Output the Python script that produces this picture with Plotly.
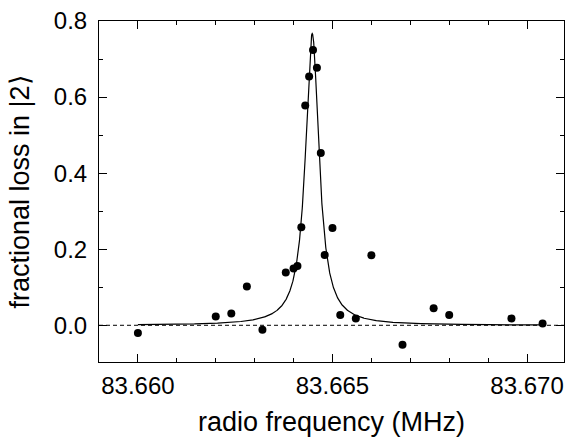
import numpy as np
import plotly.graph_objects as go

# measured points
freq_mhz = [83.6600, 83.6620, 83.6624, 83.6628, 83.6632, 83.6638, 83.6640, 83.6641,
            83.6642, 83.6643, 83.6644, 83.6645, 83.6646, 83.6647, 83.6648, 83.6650,
            83.6652, 83.6656, 83.6660, 83.6668, 83.6676, 83.6680, 83.6696, 83.6704]
loss = [-0.020, 0.023, 0.031, 0.102, -0.012, 0.139, 0.149, 0.156,
        0.258, 0.578, 0.654, 0.724, 0.677, 0.453, 0.185, 0.256,
        0.027, 0.018, 0.184, -0.051, 0.045, 0.027, 0.018, 0.005]

# lorentzian fit
fit_center = 83.66448
fit_hwhm = 0.00021
fit_amp = 0.767

x_tick_vals = [83.660, 83.665, 83.670]
x_tick_text = ["83.660", "83.665", "83.670"]
y_tick_vals = [0.0, 0.2, 0.4, 0.6, 0.8]
y_tick_text = ["0.0", "0.2", "0.4", "0.6", "0.8"]

xf = np.linspace(min(freq_mhz), max(freq_mhz), 3000)
yf = fit_amp / (1 + ((xf - fit_center) / fit_hwhm) ** 2)

fig = go.Figure()
fig.add_trace(go.Scatter(x=xf, y=yf, mode="lines",
                         line=dict(color="black", width=1.2), showlegend=False))
fig.add_trace(go.Scatter(x=freq_mhz, y=loss, mode="markers",
                         marker=dict(color="black", size=8), showlegend=False))

# dashed zero line
fig.add_shape(type="line", xref="paper", yref="y", x0=0, x1=1, y0=0, y1=0,
              line=dict(color="black", width=1, dash="4px,3px"), layer="below")

axis_common = dict(showline=True, linecolor="black", linewidth=1, mirror="allticks",
                   ticks="inside", ticklen=8, tickwidth=1, tickcolor="black",
                   showgrid=False, zeroline=False, automargin=False,
                   tickfont=dict(family="Liberation Sans", size=24, color="black"))

fig.update_xaxes(range=[83.659, 83.67095], tickvals=x_tick_vals, ticktext=x_tick_text,
                 minor=dict(dtick=0.001, tick0=83.660, ticks="inside", ticklen=4,
                            tickcolor="black", showgrid=False),
                 ticklabelstandoff=2, ticklabeloverflow="allow",
                 title=dict(text="radio frequency (MHz)", standoff=14,
                            font=dict(family="Liberation Sans", size=27, color="black")),
                 **axis_common)
fig.update_yaxes(range=[-0.0965, 0.8], tickvals=y_tick_vals, ticktext=y_tick_text,
                 minor=dict(dtick=0.1, tick0=0, ticks="inside", ticklen=4,
                            tickcolor="black", showgrid=False),
                 ticklabelstandoff=6,
                 title=dict(text="fractional loss in |2⟩", standoff=16,
                            font=dict(family="Liberation Sans", size=27, color="black")),
                 **axis_common)

fig.update_layout(width=566, height=439, margin=dict(l=99, r=2, t=21, b=77),
                  plot_bgcolor="white", paper_bgcolor="white")

# page has a default 8px body margin, drop it so the figure fills the window
fig.write_html("out.html", config={"displayModeBar": False},
               post_script="document.body.style.margin = '0';")
